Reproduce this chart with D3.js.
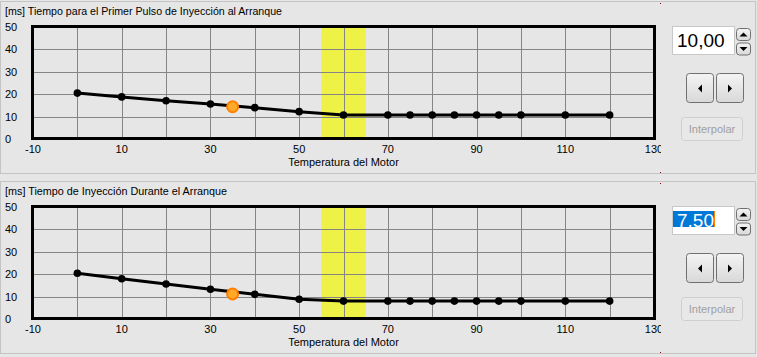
<!DOCTYPE html>
<html><head><meta charset="utf-8">
<script src="https://cdn.jsdelivr.net/npm/d3@7"></script>
<style>
body{margin:0;background:#e6e6e6;}
svg{display:block;}
text{font-family:"Liberation Sans",Arial,sans-serif;}
</style></head>
<body>
<svg id="c" width="757" height="357"></svg>
<script>
// ---- data ----
const temps = [0,10,20,30,40,50,60,70,75,80,85,90,95,100,110,120];
const pulseValues = [20.5,18.8,17.1,15.6,14.0,12.2,10.7,10.7,10.7,10.7,10.7,10.7,10.7,10.7,10.7,10.7];
const crankValues = [20.4,18.0,15.6,13.3,11.0,8.8,8.0,8.0,8.0,8.0,8.0,8.0,8.0,8.0,8.0,8.0];
const xTickLabels = [-10,10,30,50,70,90,110,130];
const xGridTicks = [0,10,20,30,40,50,60,70,80,90,100,110,120];
const yTickLabels = [0,10,20,30,40,50];
const yGridTicks = [10,20,30,40];
const highlightBand = [55,65];
const currentTemp = 35;
const pulseCurrent = 14.4;
const crankCurrent = 11.2;
const titles = ["[ms] Tiempo para el Primer Pulso de Inyección al Arranque","[ms] Tiempo de Inyección Durante el Arranque"];
const titleWidths = [277,222];
const xAxisTitle = "Temperatura del Motor";
const inputTexts = ["10,00","7,50"];

const svg = d3.select("#c");
const defs = svg.append("defs");
const bg = defs.append("linearGradient").attr("id","btn").attr("x1",0).attr("y1",0).attr("x2",0).attr("y2",1);
bg.append("stop").attr("offset","0").attr("stop-color","#f4f4f4");
bg.append("stop").attr("offset","1").attr("stop-color","#d8d8d8");
defs.append("clipPath").attr("id","lblclip").append("rect").attr("x",0).attr("y",0).attr("width",661).attr("height",357);

const x = d3.scaleLinear().domain([-10,130]).range([33,654]);

function panel(oy, title, tw, vals, cur, inputText, selected){
  const g = svg.append("g").attr("transform",`translate(0,${oy})`);
  const y = d3.scaleLinear().domain([0,50]).range([139,27]);
  // panel border
  g.append("rect").attr("x",0.5).attr("y",1.5).attr("width",755).attr("height",172)
    .attr("fill","none").attr("stroke","#c4c4c4");
  g.append("rect").attr("x",660).attr("y",3).attr("width",1).attr("height",1).attr("fill","#a00000");
  g.append("rect").attr("x",660).attr("y",172).attr("width",1).attr("height",1).attr("fill","#a00000");
  g.append("text").attr("x",5).attr("y",15).attr("font-size",11).attr("fill","#000")
    .attr("textLength",tw).attr("lengthAdjust","spacingAndGlyphs").text(title);
  // band
  g.append("rect").attr("x",x(highlightBand[0])).attr("y",y(50)).attr("width",x(highlightBand[1])-x(highlightBand[0]))
    .attr("height",y(0)-y(50)).attr("fill","#eef246");
  // grid
  g.selectAll("line.vg").data(xGridTicks).enter().append("line")
    .attr("x1",d=>Math.round(x(d))+0.5).attr("x2",d=>Math.round(x(d))+0.5)
    .attr("y1",y(50)).attr("y2",y(0)).attr("stroke","#858585").attr("stroke-width",1);
  g.selectAll("line.hg").data(yGridTicks).enter().append("line")
    .attr("y1",d=>Math.round(y(d))+0.5).attr("y2",d=>Math.round(y(d))+0.5)
    .attr("x1",x(-10)).attr("x2",x(130)).attr("stroke","#858585").attr("stroke-width",1);
  // frame
  g.append("rect").attr("x",x(-10)-0.5).attr("y",y(50)-0.5).attr("width",x(130)-x(-10)+1).attr("height",y(0)-y(50))
    .attr("fill","none").attr("stroke","#000").attr("stroke-width",3);
  // y labels
  g.selectAll("text.yl").data(yTickLabels).enter().append("text")
    .attr("x",5).attr("y",d=>y(d)+4).attr("font-size",11).text(d=>d);
  // x labels
  g.append("g").attr("clip-path","url(#lblclip)").selectAll("text").data(xTickLabels).enter().append("text")
    .attr("x",d=>x(d)).attr("y",153).attr("text-anchor","middle").attr("font-size",11).text(d=>d);
  g.append("text").attr("x",(x(-10)+x(130))/2).attr("y",166).attr("text-anchor","middle").attr("font-size",11).text(xAxisTitle);
  // line
  const pts = temps.map((t,i)=>[t,vals[i]]);
  g.append("path").attr("d",d3.line().x(d=>x(d[0])).y(d=>y(d[1]))(pts))
    .attr("fill","none").attr("stroke","#000").attr("stroke-width",3);
  g.selectAll("circle.p").data(pts).enter().append("circle")
    .attr("cx",d=>x(d[0])).attr("cy",d=>y(d[1])).attr("r",3.8).attr("fill","#000");
  g.append("circle").attr("cx",x(currentTemp)).attr("cy",y(cur)).attr("r",5.5)
    .attr("fill","#ffa928").attr("stroke","#ff8000").attr("stroke-width",2);
  // input
  g.append("rect").attr("x",672.5).attr("y",26.5).attr("width",62).attr("height",28)
    .attr("fill","#fff").attr("stroke","#c8c8c8");
  if(selected){
    g.append("rect").attr("x",673).attr("y",31).attr("width",41).attr("height",16).attr("fill","#0078d7");
    g.append("rect").attr("x",714).attr("y",31).attr("width",1).attr("height",16).attr("fill","#ff8000");
  }
  g.append("text").attr("x",677).attr("y",47).attr("font-size",19).attr("fill",selected?"#fff":"#000").text(inputText);
  // spinner
  [[736,28],[736,42.5]].forEach((p,i)=>{
    g.append("rect").attr("x",p[0]+0.5).attr("y",p[1]+0.5).attr("width",14).attr("height",12).attr("rx",3)
      .attr("fill","url(#btn)").attr("stroke","#707070");
    const cx=p[0]+7.5, cy=p[1]+6.5;
    const tri = i===0 ? `M${cx-4},${cy+2}L${cx+4},${cy+2}L${cx},${cy-2}Z` : `M${cx-4},${cy-2}L${cx+4},${cy-2}L${cx},${cy+2}Z`;
    g.append("path").attr("d",tri).attr("fill","#000");
  });
  // arrows
  [[686,0],[716,1]].forEach(p=>{
    g.append("rect").attr("x",p[0]+0.5).attr("y",73.5).attr("width",27).attr("height",29).attr("rx",3)
      .attr("fill","url(#btn)").attr("stroke","#707070");
    const cx=p[0]+14, cy=88.5;
    const tri = p[1]===0 ? `M${cx+2},${cy-4}L${cx+2},${cy+4}L${cx-2},${cy}Z` : `M${cx-2},${cy-4}L${cx-2},${cy+4}L${cx+2},${cy}Z`;
    g.append("path").attr("d",tri).attr("fill","#000");
  });
  // interpolar
  g.append("rect").attr("x",681.5).attr("y",117.5).attr("width",61).attr("height",23).attr("rx",3)
    .attr("fill","#e8e8e8").attr("stroke","#cfcfcf");
  g.append("text").attr("x",712).attr("y",133).attr("text-anchor","middle").attr("font-size",11).attr("fill","#a0a0a0").text("Interpolar");
}
panel(0, titles[0], titleWidths[0], pulseValues, pulseCurrent, inputTexts[0], false);
panel(180, titles[1], titleWidths[1], crankValues, crankCurrent, inputTexts[1], true);
</script>
</body></html>
